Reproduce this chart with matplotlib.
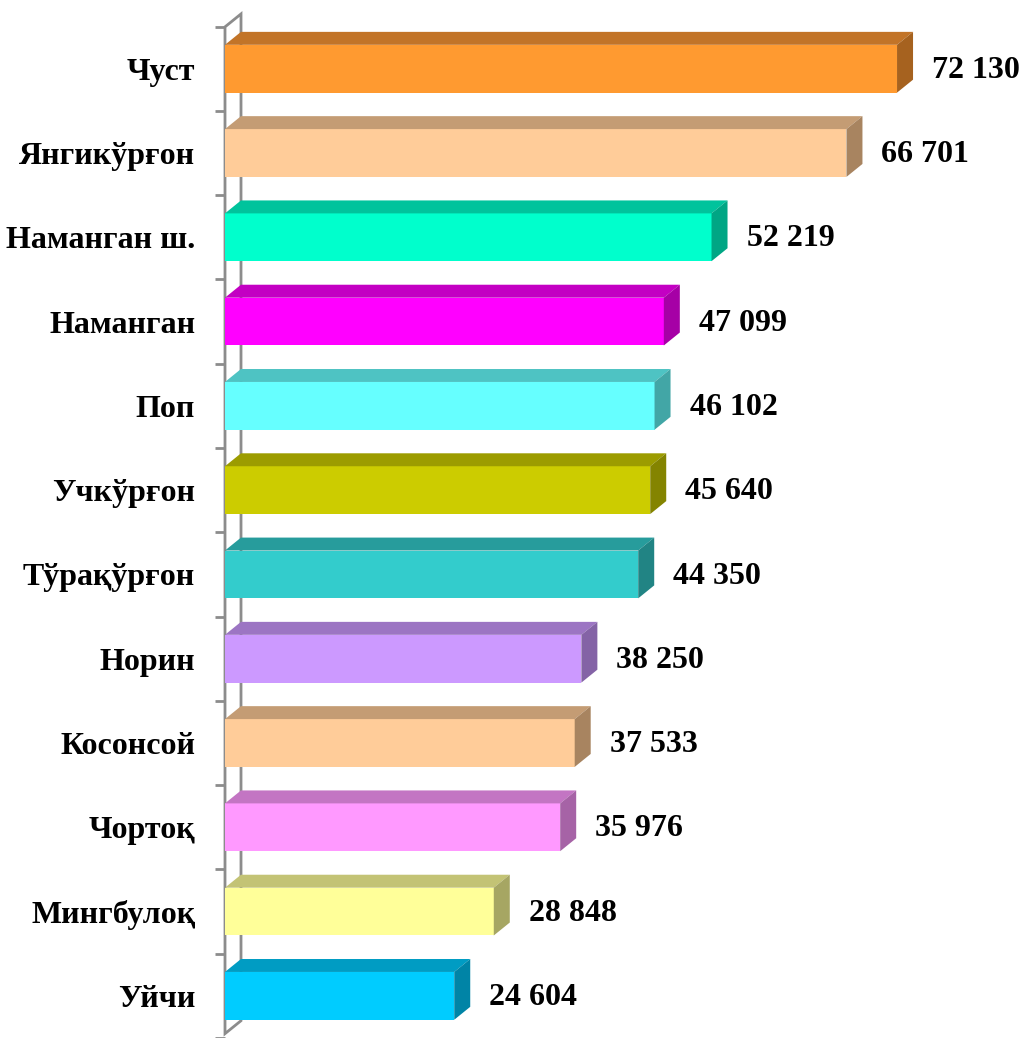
import matplotlib.pyplot as plt
from matplotlib.patches import Polygon

# Districts and values, top to bottom
districts = ["Чуст", "Янгикўрғон", "Наманган ш.", "Наманган", "Поп", "Учкўрғон",
             "Тўрақўрғон", "Норин", "Косонсой", "Чортоқ", "Мингбулоқ", "Уйчи"]
values = [72130, 66701, 52219, 47099, 46102, 45640, 44350, 38250, 37533, 35976, 28848, 24604]
value_labels = ["72 130", "66 701", "52 219", "47 099", "46 102", "45 640",
                "44 350", "38 250", "37 533", "35 976", "28 848", "24 604"]

# front / top / side shades of each bar
front_colors = ["#FF9A30", "#FFCC99", "#00FFCC", "#FF00FF", "#66FFFF", "#CCCC00",
                "#33CCCC", "#CC99FF", "#FFCC99", "#FF99FF", "#FFFF99", "#00CCFF"]
top_colors = ["#C27428", "#C49C74", "#00C39C", "#C300C3", "#4EC3C3", "#9C9C00",
              "#279C9C", "#9C75C3", "#C49C74", "#C375C3", "#C3C375", "#009CC3"]
side_colors = ["#A6621F", "#A88460", "#00A684", "#A600A6", "#42A6A6", "#848400",
               "#218484", "#8463A6", "#A88460", "#A663A6", "#A6A663", "#0084A6"]

W, H, DPI = 1023, 1038, 100
px_x = 0.009317            # pixels per unit along x
px_y = 84.64               # pixels per category row
x0_px, row0_px = 225, 69

plt.rcParams["font.family"] = ["Liberation Serif", "DejaVu Serif"]
plt.rcParams["font.weight"] = "bold"

fig = plt.figure(figsize=(W / DPI, H / DPI), dpi=DPI)
ax = fig.add_axes([x0_px / W, 0, 1 - x0_px / W, 1])
ax.set_xlim(0, (W - x0_px) / px_x)
ax.set_ylim((H - row0_px) / px_y, -row0_px / px_y)

dx = 16 / px_x             # depth offset, data units
dy = 13 / px_y
bh = 48 / px_y             # bar thickness

# back wall outline
wall_top = (27 - row0_px) / px_y
wall_bot = (1038 - row0_px) / px_y
ax.add_patch(Polygon([(0, wall_top), (dx, wall_top - dy), (dx, wall_bot - dy), (0, wall_bot)],
                     closed=True, fill=False, edgecolor="#8C8C8C", linewidth=2, zorder=1,
                     clip_on=False))

for i, v in enumerate(values):
    top, bot = i - bh / 2, i + bh / 2
    ax.barh(i, v, height=bh, color=front_colors[i], zorder=3)
    ax.add_patch(Polygon([(0, top), (dx, top - dy), (v + dx, top - dy), (v, top)],
                         closed=True, facecolor=top_colors[i], edgecolor="none", zorder=3))
    ax.add_patch(Polygon([(v, top), (v + dx, top - dy), (v + dx, bot - dy), (v, bot)],
                         closed=True, facecolor=side_colors[i], edgecolor="none", zorder=3))
    ax.text(v + 35 / px_x, i + 0.02, value_labels[i], ha="left", va="center",
            fontsize=23, fontweight="bold", color="black", zorder=4)

ax.set_yticks(range(len(districts)))
ax.set_yticklabels(districts, fontsize=23, fontweight="bold")
ax.tick_params(axis="y", which="major", length=0, pad=21.5)
ax.set_yticks([k - 0.5 for k in range(len(districts) + 1)], minor=True)
ax.tick_params(axis="y", which="minor", length=7, width=2, color="#8C8C8C")
ax.tick_params(axis="x", which="both", bottom=False, labelbottom=False)
for s in ax.spines.values():
    s.set_visible(False)

fig.savefig("out.png", dpi=DPI)
